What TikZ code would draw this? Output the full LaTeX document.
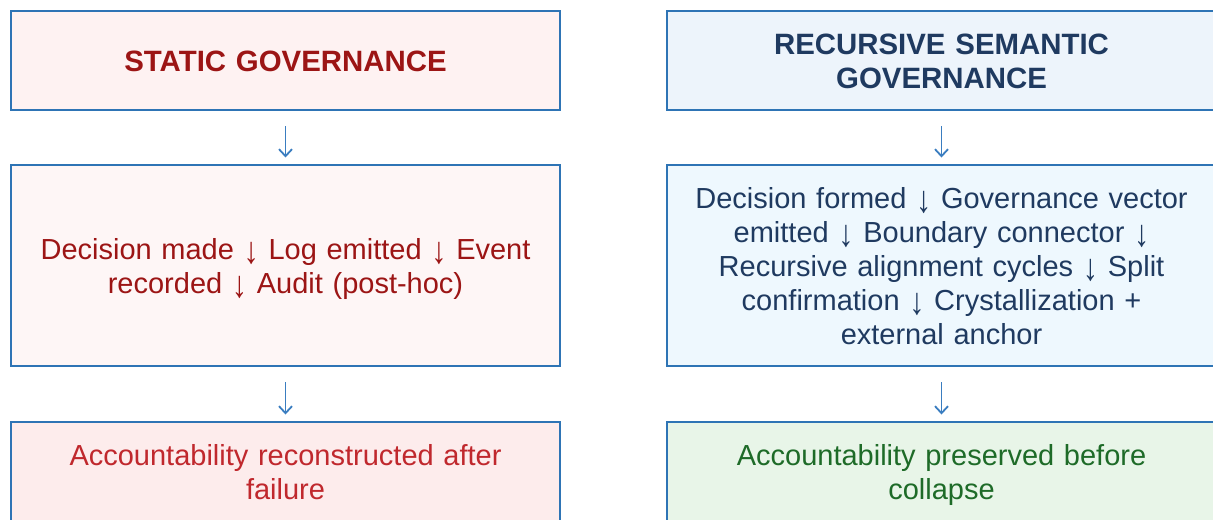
\documentclass[tikz,border=0pt]{standalone}
\usepackage{fontspec}
\setmainfont{Liberation Sans}
\usetikzlibrary{positioning}
\usetikzlibrary{arrows.meta}
\definecolor{edgeblue}{HTML}{2E74B5}
\definecolor{arrowblue}{HTML}{3A7DC0}
\definecolor{staticred}{HTML}{9C1515}
\definecolor{resultred}{HTML}{C0282D}
\definecolor{rsgnavy}{HTML}{1F3A60}
\definecolor{resultgreen}{HTML}{1E6B28}
\definecolor{statichead}{HTML}{FEF2F2}
\definecolor{staticbody}{HTML}{FEF6F6}
\definecolor{staticend}{HTML}{FDECEC}
\definecolor{rsghead}{HTML}{EDF4FB}
\definecolor{rsgbody}{HTML}{EEF8FE}
\definecolor{rsgend}{HTML}{E8F5E8}
\tikzset{line/.style={draw, line width=0.9pt, arrowblue, -{Straight Barb[length=3.5pt,width=6.5pt]}, shorten <=7.5pt, shorten >=3.25pt}}
% taller step arrow inside the texts
\newcommand{\steparr}{\smash{\raisebox{-0.13em}{\scalebox{1.05}[1.3]{↓}}}}

\begin{document}
\begin{tikzpicture}
\tikzstyle{block} = [rectangle, draw=edgeblue, line width=1pt, text width=272pt, align=center, minimum width=274.5pt, inner sep=0pt, execute at begin node={\rule{0pt}{13.9pt}}, execute at end node={\rule[-3.1pt]{0pt}{0pt}}]
\tikzstyle{head} = [block, minimum height=49.5pt, font=\fontsize{14.7}{17}\selectfont\bfseries]
\tikzstyle{body} = [block, font=\fontsize{14.5}{17}\selectfont]

\useasboundingbox (0,0) rectangle (606.5pt,-259.5pt);
% blocks
    % static
    \node [head, fill=statichead, text=staticred] (static) at (142.75pt,-30.25pt) {STATIC GOVERNANCE};
    \node [body, fill=staticbody, text=staticred, minimum height=100.5pt, below=26.5pt of static] (static steps) {Decision made \steparr{} Log emitted \steparr{} Event\\ recorded \steparr{} Audit (post-hoc)};
    \node [body, fill=staticend, text=resultred, minimum height=50pt, below=27pt of static steps] (static result) {Accountability reconstructed after\\ failure};
    % recursive semantic
    \node [head, fill=rsghead, text=rsgnavy, right=52.5pt of static] (rsg) {RECURSIVE SEMANTIC\\ GOVERNANCE};
    \node [body, fill=rsgbody, text=rsgnavy, minimum height=100.5pt, below=26.5pt of rsg] (rsg steps) {Decision formed \steparr{} Governance vector\\ emitted \steparr{} Boundary connector \steparr\\ Recursive alignment cycles \steparr{} Split\\ confirmation \steparr{} Crystallization +\\ external anchor};
    \node [body, fill=rsgend, text=resultgreen, minimum height=50pt, below=27pt of rsg steps] (rsg result) {Accountability preserved before\\ collapse};
% arrows
    \path [line] (static.south) -- (static steps.north);
    \path [line] (static steps.south) -- (static result.north);
    \path [line] (rsg.south) -- (rsg steps.north);
    \path [line] (rsg steps.south) -- (rsg result.north);
\end{tikzpicture}
\end{document}
